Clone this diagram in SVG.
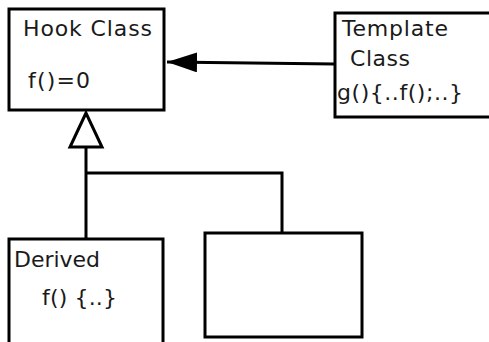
<svg xmlns="http://www.w3.org/2000/svg" width="489" height="342" viewBox="0 0 489 342">
  <style>
    .box { fill: #ffffff; stroke: #000000; stroke-width: 3; }
    .wire { fill: none; stroke: #000000; stroke-width: 3; }
    .lbl { font-family: "DejaVu Sans", "Liberation Sans", sans-serif; font-size: 22px; fill: #1a1a1a; }
  </style>
  <defs>
    <marker id="solidHead" markerUnits="userSpaceOnUse" markerWidth="32" markerHeight="22" refX="30" refY="10" orient="auto">
      <path d="M0,0 L30,10 L0,20 Z" fill="#000000"/>
    </marker>
  </defs>
  <rect width="489" height="342" fill="#ffffff"/>

  <!-- connectors -->
  <g id="connectors">
    <!-- Template class uses the hook -->
    <line class="wire" x1="335" y1="64" x2="167" y2="62" marker-end="url(#solidHead)"/>
    <!-- inheritance tree -->
    <path class="wire" d="M86,147 V239"/>
    <path class="wire" d="M86,173 H282 V233"/>
    <polygon points="86,113 70,147 102,147" fill="#ffffff" stroke="#000000" stroke-width="3" stroke-linejoin="miter"/>
  </g>

  <g id="hook-class">
    <rect class="box" x="9" y="9" width="155" height="101"/>
    <text class="lbl" x="23" y="36" textLength="129" lengthAdjust="spacing">Hook Class</text>
    <text class="lbl" x="28" y="88" textLength="62" lengthAdjust="spacing">f()=0</text>
  </g>

  <g id="template-class">
    <rect class="box" x="335" y="13" width="170" height="104"/>
    <text class="lbl" x="342" y="36" textLength="106" lengthAdjust="spacing">Template</text>
    <text class="lbl" x="350" y="66" textLength="60" lengthAdjust="spacing">Class</text>
    <text class="lbl" x="337" y="100" textLength="126" lengthAdjust="spacing">g(){..f();..}</text>
  </g>

  <g id="derived">
    <rect class="box" x="9" y="239" width="154" height="120"/>
    <text class="lbl" x="14" y="267" textLength="86" lengthAdjust="spacing">Derived</text>
    <text class="lbl" x="42" y="305" textLength="75" lengthAdjust="spacing">f() {..}</text>
  </g>

  <g id="other-derived">
    <rect class="box" x="205" y="233" width="157" height="104"/>
  </g>
</svg>
